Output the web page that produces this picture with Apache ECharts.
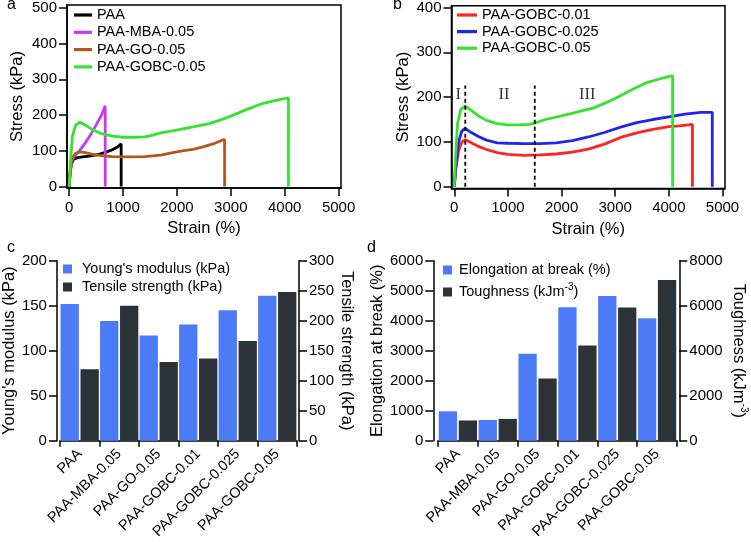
<!DOCTYPE html>
<html>
<head>
<meta charset="utf-8">
<script src="https://cdn.jsdelivr.net/npm/echarts@6/dist/echarts.min.js"></script>
<style>html,body{margin:0;padding:0;background:#fff;}#c{width:751px;height:542px;}</style>
</head>
<body>
<div id="c"></div>
<script>
// ---------- Panel a: stress-strain curves ----------
const strainPAA  = [0, 15, 40, 80, 150, 250, 400, 550, 700, 800, 900, 965, 965];
const stressPAA  = [0, 35, 62, 76, 81, 83, 86, 90, 97, 103, 111, 120, 0];
const strainMBA  = [0, 10, 30, 60, 100, 200, 300, 400, 500, 600, 669, 669];
const stressMBA  = [0, 25, 55, 75, 85, 102, 122, 146, 172, 200, 226, 0];
const strainGO   = [0, 20, 60, 120, 200, 300, 500, 800, 1100, 1400, 1700, 1900, 2100, 2300, 2500, 2700, 2885, 2885];
const stressGO   = [0, 40, 80, 93, 97, 95, 88, 84, 83, 84, 88, 94, 100, 104, 112, 121, 132, 0];
const strainG05  = [0, 20, 60, 120, 200, 300, 450, 600, 800, 1000, 1200, 1400, 1500, 1700, 2000, 2300, 2600, 2800, 3000, 3300, 3600, 3900, 4070, 4070];
const stressG05  = [0, 60, 140, 172, 180, 172, 158, 148, 141, 138, 138, 139, 142, 150, 158, 167, 176, 186, 197, 216, 233, 243, 248, 0];
// ---------- Panel b ----------
const strainG01  = [0, 30, 80, 140, 204, 300, 450, 600, 800, 1000, 1300, 1600, 1900, 2200, 2500, 2800, 3100, 3400, 3700, 4000, 4200, 4440, 4440];
const stressG01  = [0, 40, 80, 100, 105, 99, 90, 83, 76, 72, 70, 71, 73, 77, 84, 95, 110, 120, 128, 134, 136, 139, 0];
const strainG025 = [0, 30, 80, 140, 204, 300, 450, 600, 800, 1000, 1300, 1600, 1900, 2200, 2500, 2800, 3100, 3400, 3700, 4000, 4300, 4600, 4810, 4810];
const stressG025 = [0, 50, 100, 124, 130, 122, 112, 104, 98, 97, 96, 96, 98, 103, 111, 121, 133, 143, 150, 156, 162, 166, 166, 0];
const dividerX   = [205, 1500];
const dividerTop = 226;
const regionNames = ['I', 'II', 'III'];
const regionX     = [75, 927, 2480];
const regionY     = 205;
const strainTicks = [0, 1000, 2000, 3000, 4000, 5000];
const stressTicksA = [0, 100, 200, 300, 400, 500];
const stressTicksB = [0, 100, 200, 300, 400];
// ---------- Panels c, d ----------
const samples = ['PAA', 'PAA-MBA-0.05', 'PAA-GO-0.05', 'PAA-GOBC-0.01', 'PAA-GOBC-0.025', 'PAA-GOBC-0.05'];
const youngsModulus   = [152, 133, 117, 129, 145, 161];
const tensileStrength = [119, 225, 131, 137, 166, 248];
const elongation      = [980, 690, 2900, 4450, 4820, 4080];
const toughness       = [900, 970, 2770, 4230, 5920, 7140];

const FONT = 'Liberation Sans, Arial, sans-serif';
const TICK_FS = 15;
const zip = (xs, ys) => xs.map((x, i) => [x, ys[i]]);
const plain = (v) => String(v);

const chart = echarts.init(document.getElementById('c'), null, {renderer: 'canvas'});

const axisLineS = {show: true, onZero: false, lineStyle: {color: '#000', width: 1.5}};
function valueXAxis(gi, min, max) {
  return {
    type: 'value', gridIndex: gi, min: min, max: max,
    name: 'Strain (%)', nameLocation: 'middle', nameGap: 32,
    nameTextStyle: {fontFamily: FONT, fontSize: 16.5, color: '#000'},
    axisLine: axisLineS,
    axisTick: {show: true, inside: false, length: 8, customValues: strainTicks, lineStyle: {color: '#000', width: 1.5}},
    axisLabel: {fontFamily: FONT, fontSize: TICK_FS, color: '#000', margin: 12, customValues: strainTicks, formatter: plain},
    splitLine: {show: false}
  };
}
function valueYAxis(gi, min, max, ticks, gap) {
  return {
    type: 'value', gridIndex: gi, min: min, max: max,
    name: 'Stress (kPa)', nameLocation: 'middle', nameGap: gap,
    nameTextStyle: {fontFamily: FONT, fontSize: 16.5, color: '#000'},
    axisLine: axisLineS,
    axisTick: {show: true, inside: false, length: 8, customValues: ticks, lineStyle: {color: '#000', width: 1.5}},
    axisLabel: {fontFamily: FONT, fontSize: TICK_FS, color: '#000', margin: 10, customValues: ticks, formatter: plain},
    splitLine: {show: false}
  };
}
function catXAxis(gi) {
  return {
    type: 'category', gridIndex: gi, data: samples, offset: 3,
    axisLine: {show: true, lineStyle: {color: '#000', width: 1.5}},
    axisTick: {show: true, length: 6, alignWithLabel: false, lineStyle: {color: '#000', width: 1.5}},
    axisLabel: {fontFamily: FONT, fontSize: 14.5, color: '#000', rotate: 45, margin: 8, interval: 0},
    splitLine: {show: false}
  };
}
function barYAxis(gi, pos, max, interval, name, gap, offset, rotate, rich) {
  const a = {
    type: 'value', gridIndex: gi, position: pos, min: 0, max: max, interval: interval, offset: offset,
    name: name, nameLocation: 'middle', nameGap: gap,
    nameTextStyle: {fontFamily: FONT, fontSize: 16.5, color: '#000'},
    axisLine: {show: true, onZero: false, lineStyle: {color: '#000', width: 1.5}},
    axisTick: {show: true, length: 8, lineStyle: {color: '#000', width: 1.5}},
    axisLabel: {fontFamily: FONT, fontSize: TICK_FS, color: '#000', margin: 10, formatter: plain},
    splitLine: {show: false}
  };
  if (rotate != null) a.nameRotate = rotate;
  if (rich) a.nameTextStyle.rich = rich;
  return a;
}
const lineSeries = (name, xs, ys, color, xi, yi) => ({
  name: name, type: 'line', xAxisIndex: xi, yAxisIndex: yi, data: zip(xs, ys),
  showSymbol: false, symbol: 'none', lineStyle: {color: color, width: 2.8}, itemStyle: {color: color},
  emphasis: {disabled: true}, animation: false, z: 3
});
const dividerSeries = (x) => ({
  type: 'line', xAxisIndex: 1, yAxisIndex: 1, data: [[x, 0], [x, dividerTop]],
  showSymbol: false, symbol: 'none', lineStyle: {color: '#000', width: 1.8, type: [4, 3]},
  emphasis: {disabled: true}, animation: false, z: 4
});

const supRich = {sup: {fontSize: 10, verticalAlign: 'top', lineHeight: 20, fontFamily: FONT, color: '#000'}};

const colBlue = '#4b7bf6', colDark = '#2b3238';
const C = {paa: '#000000', mba: '#c83af2', go: '#b3561f', g05: '#35e22f', g01: '#ff2323', g025: '#2323f0'};

const option = {
  backgroundColor: '#fff',
  animation: false,
  grid: [
    {left: 67, top: 5, width: 274, height: 183, show: true, borderColor: '#000', borderWidth: 1.5, backgroundColor: 'transparent'},
    {left: 451.5, top: 5, width: 273.5, height: 183.5, show: true, borderColor: '#000', borderWidth: 1.5, backgroundColor: 'transparent'},
    {left: 58, top: 260.7, width: 239, height: 180},
    {left: 438, top: 260.7, width: 239, height: 180}
  ],
  xAxis: [
    valueXAxis(0, -40, 5045),
    valueXAxis(1, -52, 5047),
    catXAxis(2),
    catXAxis(3)
  ],
  yAxis: [
    valueYAxis(0, -4, 508, stressTicksA, 41),
    valueYAxis(1, -4, 403.8, stressTicksB, 40),
    barYAxis(2, 'left', 200, 50, "Young's modulus (kPa)", 35, 3, null, null),
    barYAxis(2, 'right', 300, 50, 'Tensile strength (kPa)', 39, 2, -90, null),
    barYAxis(3, 'left', 6000, 1000, 'Elongation at break (%)', 45, 4.7, null, null),
    barYAxis(3, 'right', 8000, 2000, 'Toughness (kJm{sup|-3})', 49, 2.3, -90, supRich)
  ],
  legend: [
    {data: ['PAA', 'PAA-MBA-0.05', 'PAA-GO-0.05', 'PAA-GOBC-0.05 '], orient: 'vertical', left: 74, top: 6.5, padding: 0,
     icon: 'rect', itemWidth: 18, itemHeight: 3.2, itemGap: 0.3, selectedMode: false,
     textStyle: {fontFamily: FONT, fontSize: 14.5, color: '#000', lineHeight: 17}},
    {data: ['PAA-GOBC-0.01', 'PAA-GOBC-0.025', 'PAA-GOBC-0.05'], orient: 'vertical', left: 457, top: 6.7, padding: 0,
     icon: 'rect', itemWidth: 20, itemHeight: 3.2, itemGap: 0, selectedMode: false,
     textStyle: {fontFamily: FONT, fontSize: 14.5, color: '#000', lineHeight: 16.6}},
    {data: ["Young's modulus (kPa)", 'Tensile strength (kPa)'], orient: 'vertical', left: 63, top: 260, padding: 0,
     icon: 'rect', itemWidth: 9, itemHeight: 9, itemGap: 0, selectedMode: false,
     textStyle: {fontFamily: FONT, fontSize: 14.5, color: '#000', lineHeight: 18, padding: [0, 0, 0, 5]}},
    {data: ['Elongation at break (%)', 'Toughness (kJm-3)'], orient: 'vertical', left: 443, top: 260, padding: 0,
     icon: 'rect', itemWidth: 9, itemHeight: 9, itemGap: 2, selectedMode: false,
     formatter: function (n) { return n === 'Toughness (kJm-3)' ? 'Toughness (kJm{sup|-3})' : n; },
     textStyle: {fontFamily: FONT, fontSize: 14.5, color: '#000', lineHeight: 20, padding: [0, 0, 0, 2], rich: supRich}}
  ],
  series: [
    lineSeries('PAA', strainPAA, stressPAA, C.paa, 0, 0),
    lineSeries('PAA-MBA-0.05', strainMBA, stressMBA, C.mba, 0, 0),
    lineSeries('PAA-GO-0.05', strainGO, stressGO, C.go, 0, 0),
    lineSeries('PAA-GOBC-0.05 ', strainG05, stressG05, C.g05, 0, 0),
    lineSeries('PAA-GOBC-0.01', strainG01, stressG01, C.g01, 1, 1),
    lineSeries('PAA-GOBC-0.025', strainG025, stressG025, C.g025, 1, 1),
    lineSeries('PAA-GOBC-0.05', strainG05, stressG05, C.g05, 1, 1),
    dividerSeries(dividerX[0]),
    dividerSeries(dividerX[1]),
    {
      type: 'scatter', xAxisIndex: 1, yAxisIndex: 1, symbolSize: 0,
      data: regionNames.map((n, i) => ({value: [regionX[i], regionY], name: n})),
      label: {show: true, position: 'inside', formatter: '{b}', fontFamily: 'Liberation Serif, Times New Roman, serif', fontSize: 16.5, color: '#000'},
      emphasis: {disabled: true}, silent: true, z: 5
    },
    {name: "Young's modulus (kPa)", type: 'bar', xAxisIndex: 2, yAxisIndex: 2, data: youngsModulus,
     barWidth: 18.3, barGap: '9%', itemStyle: {color: colBlue}, emphasis: {disabled: true}},
    {name: 'Tensile strength (kPa)', type: 'bar', xAxisIndex: 2, yAxisIndex: 3, data: tensileStrength,
     barWidth: 18.3, barGap: '9%', itemStyle: {color: colDark}, emphasis: {disabled: true}},
    {name: 'Elongation at break (%)', type: 'bar', xAxisIndex: 3, yAxisIndex: 4, data: elongation,
     barWidth: 18.3, barGap: '9%', itemStyle: {color: colBlue}, emphasis: {disabled: true}},
    {name: 'Toughness (kJm-3)', type: 'bar', xAxisIndex: 3, yAxisIndex: 5, data: toughness,
     barWidth: 18.3, barGap: '9%', itemStyle: {color: colDark}, emphasis: {disabled: true}}
  ],
  graphic: [
    {type: 'text', left: 7, top: -3, style: {text: 'a', font: '16px ' + FONT, fill: '#000'}},
    {type: 'text', left: 393, top: -3, style: {text: 'b', font: '16px ' + FONT, fill: '#000'}},
    {type: 'text', left: 7, top: 239.5, style: {text: 'c', font: '16px ' + FONT, fill: '#000'}},
    {type: 'text', left: 367, top: 239.5, style: {text: 'd', font: '16px ' + FONT, fill: '#000'}}
  ]
};
chart.setOption(option);
</script>
</body>
</html>
